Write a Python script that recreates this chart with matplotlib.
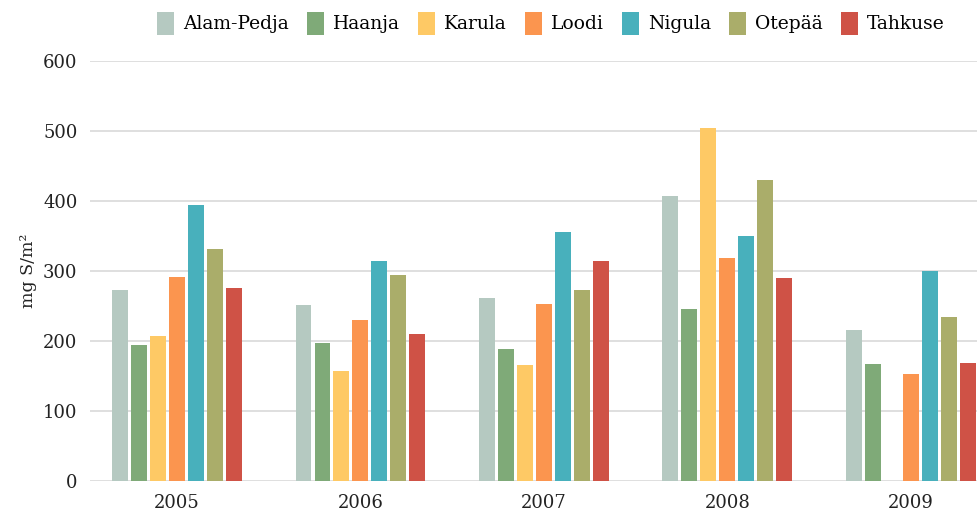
import numpy as np
import matplotlib
matplotlib.use("Agg")
import matplotlib.pyplot as plt

# Sulfate deposition per station, mg S/m2
years = ["2005", "2006", "2007", "2008", "2009"]
stations = ["Alam-Pedja", "Haanja", "Karula", "Loodi", "Nigula", "Otepää", "Tahkuse"]
alam_pedja = [273, 251, 261, 407, 216]
haanja = [194, 197, 189, 246, 167]
karula = [207, 157, 166, 504, np.nan]
loodi = [291, 230, 253, 319, 153]
nigula = [394, 314, 356, 350, 300]
otepaa = [331, 294, 273, 430, 234]
tahkuse = [276, 210, 314, 290, 169]

series = [alam_pedja, haanja, karula, loodi, nigula, otepaa, tahkuse]
colors = ["#b5c9c1", "#7faa78", "#fec965", "#fb954f", "#48b0bc", "#aaad6a", "#cf5246"]

plt.rcParams["font.family"] = ["DejaVu Serif"]

fig = plt.figure(figsize=(9.77, 5.22), dpi=100)
ax = fig.add_axes([90 / 977, 41 / 522, 1 - 90 / 977, 420 / 522])

x = np.arange(len(years))
step = 0.1035
width = 0.087
for i, (vals, col, name) in enumerate(zip(series, colors, stations)):
    ax.bar(x + (i - 3) * step, vals, width=width, color=col, label=name, zorder=3)

ax.set_xlim(-0.474, 4.36)
ax.set_ylim(0, 600)
ax.set_yticks(range(0, 601, 100))
ax.set_xticks(x)
ax.set_xticklabels(years)
ax.grid(axis="y", color="#dcdcdc", linewidth=1.3, zorder=0)
for s in ax.spines.values():
    s.set_visible(False)
ax.tick_params(axis="both", length=0, labelsize=13, colors="#222222")
ax.tick_params(axis="y", pad=9)
ax.tick_params(axis="x", pad=9)
ax.set_ylabel("mg S/m²", fontsize=12.5, labelpad=4, color="#222222")

ax.legend(loc="center right", bbox_to_anchor=(0.972, 1.09), ncol=7, frameon=False,
          fontsize=13.5, handlelength=0.9, handleheight=1.5, handletextpad=0.5,
          columnspacing=0.95, borderaxespad=0)

fig.savefig("out.png", dpi=100)
